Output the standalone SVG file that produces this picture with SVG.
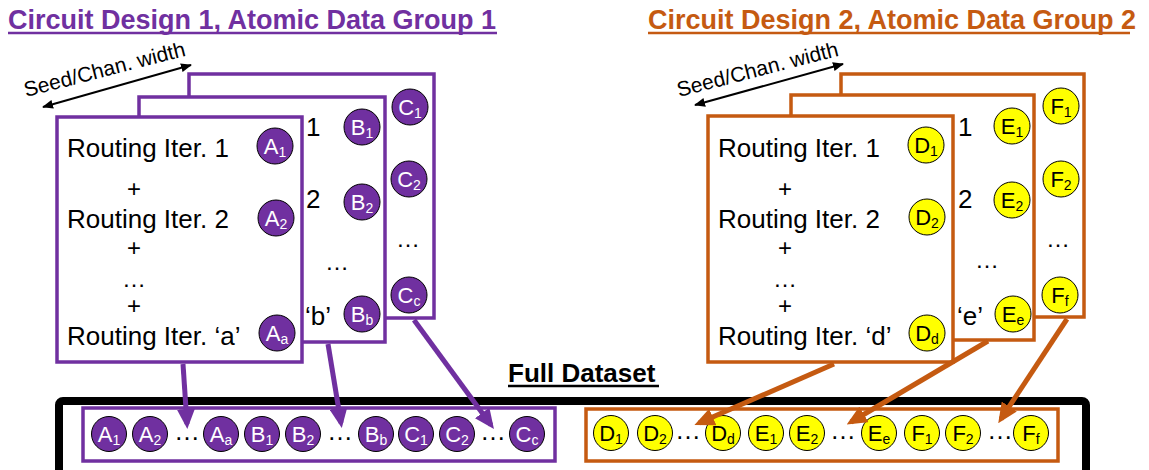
<svg xmlns="http://www.w3.org/2000/svg" width="1149" height="470" viewBox="0 0 1149 470">
<defs>
<style>
text{font-family:"Liberation Sans",Arial,sans-serif;}
.title{font-size:27px;font-weight:bold;}
.card{fill:#fff;stroke-width:3.5;}
.p .card{stroke:#7030A0;}
.o .card{stroke:#C55A11;}
.rt{font-size:26px;fill:#000;}
.pl{font-size:24px;fill:#000;text-anchor:middle;}
.el{font-size:24px;fill:#000;text-anchor:middle;}
.seed{font-size:21px;fill:#000;}
.pc{fill:#7030A0;stroke:#000;stroke-width:1;}
.yc{fill:#FFFF00;stroke:#000;stroke-width:1;}
.cl{font-size:22px;text-anchor:middle;}
.pt{fill:#fff;}
.yt{fill:#000;}
.sub{font-size:14px;}
.dots{font-size:26px;text-anchor:middle;fill:#000;}
.pconn{stroke:#7030A0;stroke-width:5;fill:none;}
.oconn{stroke:#C55A11;stroke-width:5;fill:none;}
</style>
<marker id="ap" markerUnits="userSpaceOnUse" markerWidth="20" markerHeight="18" refX="15" refY="9" orient="auto"><path d="M0,0 L20,9 L0,18 z" fill="#7030A0"/></marker>
<marker id="ao" markerUnits="userSpaceOnUse" markerWidth="20" markerHeight="18" refX="15" refY="9" orient="auto"><path d="M0,0 L20,9 L0,18 z" fill="#C55A11"/></marker>
<marker id="sa" markerUnits="userSpaceOnUse" markerWidth="11" markerHeight="9" refX="10" refY="4.5" orient="auto-start-reverse"><path d="M0,0 L11,4.5 L0,9 z" fill="#000"/></marker>
</defs>
<rect width="1149" height="470" fill="#fff"/>

<!-- Titles -->
<g id="title1">
<text x="8" y="29" class="title" fill="#7030A0">Circuit Design 1, Atomic Data Group 1</text>
<line x1="8" y1="33" x2="497" y2="33" stroke="#7030A0" stroke-width="2.5"/>
</g>
<g id="title2">
<text x="648" y="29" class="title" fill="#C55A11">Circuit Design 2, Atomic Data Group 2</text>
<line x1="648" y1="33" x2="1130" y2="33" stroke="#C55A11" stroke-width="2.5"/>
</g>

<!-- Seed axes -->
<g id="seed1">
<line x1="43" y1="107" x2="191" y2="65" stroke="#000" stroke-width="2" marker-start="url(#sa)" marker-end="url(#sa)"/>
<text x="26" y="97" class="seed" transform="rotate(-14.5 26 97)">Seed/Chan. width</text>
</g>
<g id="seed2">
<line x1="695" y1="105" x2="843" y2="64" stroke="#000" stroke-width="2" marker-start="url(#sa)" marker-end="url(#sa)"/>
<text x="679" y="97" class="seed" transform="rotate(-14.5 679 97)">Seed/Chan. width</text>
</g>

<!-- Design 1 cards -->
<g id="cardC" class="p">
<rect class="card" x="189" y="74" width="245" height="244"/>
<circle class="pc" cx="410" cy="107" r="18"/><text class="cl pt" x="410" y="115">C<tspan class="sub" dy="3">1</tspan></text>
<circle class="pc" cx="409" cy="179" r="18"/><text class="cl pt" x="409" y="187">C<tspan class="sub" dy="3">2</tspan></text>
<text class="el" x="408" y="247">…</text>
<circle class="pc" cx="409" cy="295" r="18"/><text class="cl pt" x="409" y="303">C<tspan class="sub" dy="3">c</tspan></text>
</g>
<g id="cardB" class="p">
<rect class="card" x="139" y="97" width="246" height="245"/>
<text class="rt" x="306" y="136">1</text>
<text class="rt" x="306" y="208">2</text>
<text class="el" x="337" y="270">…</text>
<text class="rt" x="305" y="325">‘b’</text>
<circle class="pc" cx="362" cy="127" r="18"/><text class="cl pt" x="362" y="135">B<tspan class="sub" dy="3">1</tspan></text>
<circle class="pc" cx="362" cy="202" r="18"/><text class="cl pt" x="362" y="210">B<tspan class="sub" dy="3">2</tspan></text>
<circle class="pc" cx="362" cy="314" r="18"/><text class="cl pt" x="362" y="322">B<tspan class="sub" dy="3">b</tspan></text>
</g>
<g id="cardA" class="p">
<rect class="card" x="57" y="117" width="245" height="245"/>
<text class="rt" x="67" y="157">Routing Iter. 1</text>
<text class="pl" x="134" y="197">+</text>
<text class="rt" x="67" y="228">Routing Iter. 2</text>
<text class="pl" x="134" y="256">+</text>
<text class="el" x="134" y="287">…</text>
<text class="pl" x="134" y="314">+</text>
<text class="rt" x="67" y="345">Routing Iter. ‘a’</text>
<circle class="pc" cx="275" cy="146" r="18"/><text class="cl pt" x="275" y="154">A<tspan class="sub" dy="3">1</tspan></text>
<circle class="pc" cx="276" cy="218" r="18"/><text class="cl pt" x="276" y="226">A<tspan class="sub" dy="3">2</tspan></text>
<circle class="pc" cx="277" cy="333" r="18"/><text class="cl pt" x="277" y="341">A<tspan class="sub" dy="3">a</tspan></text>
</g>

<!-- Design 2 cards -->
<g id="cardF" class="o">
<rect class="card" x="841" y="74" width="243" height="243"/>
<circle class="yc" cx="1061" cy="106" r="18"/><text class="cl yt" x="1061" y="114">F<tspan class="sub" dy="3">1</tspan></text>
<circle class="yc" cx="1061" cy="179" r="18"/><text class="cl yt" x="1061" y="187">F<tspan class="sub" dy="3">2</tspan></text>
<text class="el" x="1058" y="247">…</text>
<circle class="yc" cx="1060" cy="295" r="18"/><text class="cl yt" x="1060" y="303">F<tspan class="sub" dy="3">f</tspan></text>
</g>
<g id="cardE" class="o">
<rect class="card" x="791" y="95" width="243" height="245"/>
<text class="rt" x="958" y="136">1</text>
<text class="rt" x="958" y="208">2</text>
<text class="el" x="987" y="268">…</text>
<text class="rt" x="957" y="325">‘e’</text>
<circle class="yc" cx="1012" cy="126" r="18"/><text class="cl yt" x="1012" y="134">E<tspan class="sub" dy="3">1</tspan></text>
<circle class="yc" cx="1012" cy="200" r="18"/><text class="cl yt" x="1012" y="208">E<tspan class="sub" dy="3">2</tspan></text>
<circle class="yc" cx="1013" cy="314" r="18"/><text class="cl yt" x="1013" y="322">E<tspan class="sub" dy="3">e</tspan></text>
</g>
<g id="cardD" class="o">
<rect class="card" x="708" y="116" width="245" height="246"/>
<text class="rt" x="718" y="157">Routing Iter. 1</text>
<text class="pl" x="785" y="197">+</text>
<text class="rt" x="718" y="228">Routing Iter. 2</text>
<text class="pl" x="785" y="256">+</text>
<text class="el" x="785" y="287">…</text>
<text class="pl" x="785" y="314">+</text>
<text class="rt" x="718" y="345">Routing Iter. ‘d’</text>
<circle class="yc" cx="926" cy="145" r="18"/><text class="cl yt" x="926" y="153">D<tspan class="sub" dy="3">1</tspan></text>
<circle class="yc" cx="927" cy="217" r="18"/><text class="cl yt" x="927" y="225">D<tspan class="sub" dy="3">2</tspan></text>
<circle class="yc" cx="927" cy="333" r="18"/><text class="cl yt" x="927" y="341">D<tspan class="sub" dy="3">d</tspan></text>
</g>

<!-- Full dataset -->
<g id="fullDataset">
<text x="508" y="382" font-size="26" font-weight="bold" fill="#000">Full Dataset</text>
<line x1="508" y1="386" x2="659" y2="386" stroke="#000" stroke-width="2.5"/>
<rect x="59" y="401" width="1027" height="100" rx="4" fill="none" stroke="#000" stroke-width="8"/>
</g>

<g id="group1" class="p">
<rect x="83" y="408" width="472" height="53" fill="#fff" stroke="#7030A0" stroke-width="3.5"/>
<circle class="pc" cx="109" cy="434" r="17.5"/><text class="cl pt" x="109" y="442">A<tspan class="sub" dy="3">1</tspan></text>
<circle class="pc" cx="150" cy="434" r="17.5"/><text class="cl pt" x="150" y="442">A<tspan class="sub" dy="3">2</tspan></text>
<text class="dots" x="187" y="440">…</text>
<circle class="pc" cx="221" cy="434" r="17.5"/><text class="cl pt" x="221" y="442">A<tspan class="sub" dy="3">a</tspan></text>
<circle class="pc" cx="262" cy="434" r="17.5"/><text class="cl pt" x="262" y="442">B<tspan class="sub" dy="3">1</tspan></text>
<circle class="pc" cx="303" cy="434" r="17.5"/><text class="cl pt" x="303" y="442">B<tspan class="sub" dy="3">2</tspan></text>
<text class="dots" x="340" y="440">…</text>
<circle class="pc" cx="376" cy="434" r="17.5"/><text class="cl pt" x="376" y="442">B<tspan class="sub" dy="3">b</tspan></text>
<circle class="pc" cx="416" cy="434" r="17.5"/><text class="cl pt" x="416" y="442">C<tspan class="sub" dy="3">1</tspan></text>
<circle class="pc" cx="457" cy="434" r="17.5"/><text class="cl pt" x="457" y="442">C<tspan class="sub" dy="3">2</tspan></text>
<text class="dots" x="493" y="440">…</text>
<circle class="pc" cx="527" cy="434" r="17.5"/><text class="cl pt" x="527" y="442">C<tspan class="sub" dy="3">c</tspan></text>
</g>

<g id="group2" class="o">
<rect x="586" y="409" width="472" height="52" fill="#fff" stroke="#C55A11" stroke-width="3.5"/>
<circle class="yc" cx="611" cy="433" r="17.5"/><text class="cl yt" x="611" y="441">D<tspan class="sub" dy="3">1</tspan></text>
<circle class="yc" cx="655" cy="433" r="17.5"/><text class="cl yt" x="655" y="441">D<tspan class="sub" dy="3">2</tspan></text>
<text class="dots" x="688" y="439">…</text>
<circle class="yc" cx="723" cy="433" r="17.5"/><text class="cl yt" x="723" y="441">D<tspan class="sub" dy="3">d</tspan></text>
<circle class="yc" cx="766" cy="433" r="17.5"/><text class="cl yt" x="766" y="441">E<tspan class="sub" dy="3">1</tspan></text>
<circle class="yc" cx="807" cy="433" r="17.5"/><text class="cl yt" x="807" y="441">E<tspan class="sub" dy="3">2</tspan></text>
<text class="dots" x="843" y="439">…</text>
<circle class="yc" cx="879" cy="433" r="17.5"/><text class="cl yt" x="879" y="441">E<tspan class="sub" dy="3">e</tspan></text>
<circle class="yc" cx="922" cy="433" r="17.5"/><text class="cl yt" x="922" y="441">F<tspan class="sub" dy="3">1</tspan></text>
<circle class="yc" cx="963" cy="433" r="17.5"/><text class="cl yt" x="963" y="441">F<tspan class="sub" dy="3">2</tspan></text>
<text class="dots" x="1000" y="439">…</text>
<circle class="yc" cx="1031" cy="433" r="17.5"/><text class="cl yt" x="1031" y="441">F<tspan class="sub" dy="3">f</tspan></text>
</g>

<!-- Connectors -->
<g id="connectors">
<line class="pconn" x1="183" y1="364" x2="187" y2="424" marker-end="url(#ap)"/>
<line class="pconn" x1="328" y1="344" x2="341" y2="423" marker-end="url(#ap)"/>
<line class="pconn" x1="414" y1="320" x2="491" y2="425" marker-end="url(#ap)"/>
<line class="oconn" x1="834" y1="364" x2="699" y2="423" marker-end="url(#ao)"/>
<line class="oconn" x1="988" y1="341" x2="851" y2="422" marker-end="url(#ao)"/>
<line class="oconn" x1="1067" y1="319" x2="1001" y2="419" marker-end="url(#ao)"/>
</g>
</svg>
